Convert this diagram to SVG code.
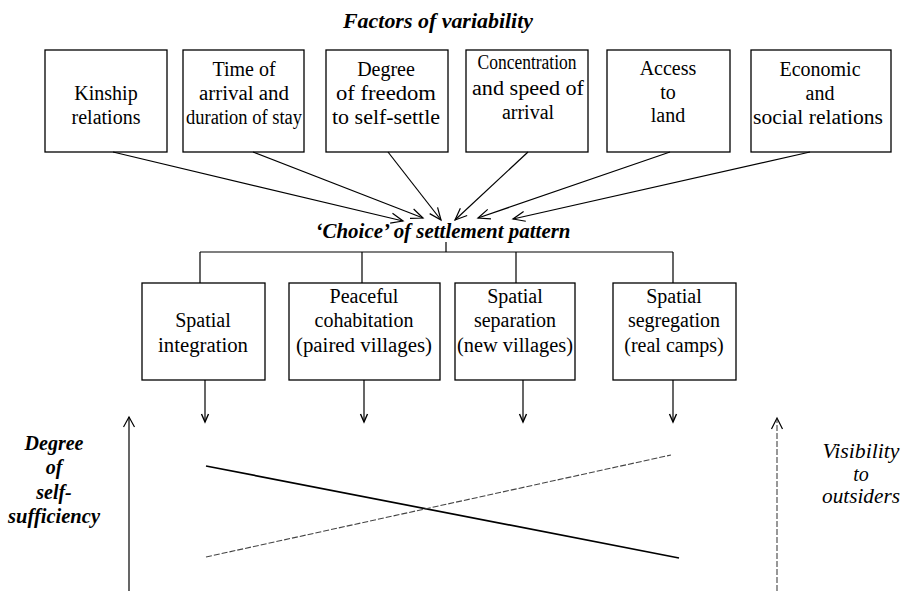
<svg xmlns="http://www.w3.org/2000/svg" width="903" height="591" viewBox="0 0 903 591">
<defs>
<style>
.box{fill:#fff;stroke:#000;stroke-width:1.3}
.t{font-size:20px;text-anchor:middle;fill:#000}
.bi{font-weight:bold;font-style:italic}
.it{font-style:italic}
.ln{stroke:#000;stroke-width:1.2;fill:none}
.dash{stroke:#444;stroke-width:1.1;fill:none;stroke-dasharray:6 2}
</style>
<marker id="open" markerWidth="15" markerHeight="12" refX="13" refY="6" orient="auto" markerUnits="userSpaceOnUse"><path d="M1,1 L13,6 L1,11" fill="none" stroke="#000" stroke-width="1.2"/></marker>
<marker id="small" markerWidth="11" markerHeight="10" refX="9" refY="5" orient="auto" markerUnits="userSpaceOnUse"><path d="M1,1.5 L9,5 L1,8.5" fill="none" stroke="#000" stroke-width="1.4"/></marker>
<marker id="up" markerWidth="13" markerHeight="13" refX="11" refY="6.5" orient="auto" markerUnits="userSpaceOnUse"><path d="M1,1 L11,6.5 L1,12" fill="none" stroke="#000" stroke-width="1.2"/></marker>
</defs>
<rect width="903" height="591" fill="#fff"/>
<g font-family="Liberation Serif, Times New Roman, DejaVu Serif, serif">
<text class="t bi" x="438" y="28" font-size="18" textLength="190" lengthAdjust="spacingAndGlyphs">Factors of variability</text>

<g id="kinship">
<rect class="box" x="45" y="50" width="122" height="102"/>
<text class="t" x="106" y="100">Kinship</text>
<text class="t" x="106" y="124">relations</text>
</g>
<g id="time">
<rect class="box" x="183" y="50" width="121" height="102"/>
<text class="t" x="244" y="76">Time of</text>
<text class="t" x="244" y="100" textLength="90" lengthAdjust="spacingAndGlyphs">arrival and</text>
<text class="t" x="244" y="124" textLength="116" lengthAdjust="spacingAndGlyphs">duration of stay</text>
</g>
<g id="degree">
<rect class="box" x="326" y="50" width="122" height="102"/>
<text class="t" x="386" y="76">Degree</text>
<text class="t" x="386" y="100" textLength="100" lengthAdjust="spacingAndGlyphs">of freedom</text>
<text class="t" x="386" y="124" textLength="108" lengthAdjust="spacingAndGlyphs">to self-settle</text>
</g>
<g id="concentration">
<rect class="box" x="466" y="50" width="122" height="102"/>
<text class="t" x="527" y="69" font-size="17" textLength="99" lengthAdjust="spacingAndGlyphs">Concentration</text>
<text class="t" x="528" y="95" textLength="112" lengthAdjust="spacingAndGlyphs">and speed of</text>
<text class="t" x="528" y="119">arrival</text>
</g>
<g id="access">
<rect class="box" x="607" y="50" width="123" height="102"/>
<text class="t" x="668" y="75">Access</text>
<text class="t" x="668" y="99">to</text>
<text class="t" x="668" y="122">land</text>
</g>
<g id="economic">
<rect class="box" x="751" y="50" width="140" height="102"/>
<text class="t" x="820" y="76" font-size="21">Economic</text>
<text class="t" x="820" y="100" font-size="21">and</text>
<text class="t" x="818" y="124" textLength="130" lengthAdjust="spacingAndGlyphs">social relations</text>
</g>

<g id="choice">
<text class="t bi" x="443" y="238" font-size="19" textLength="255" lengthAdjust="spacingAndGlyphs">‘Choice’ of settlement pattern</text>
</g>

<g id="integration">
<rect class="box" x="142" y="283" width="123" height="97"/>
<text class="t" x="203" y="327">Spatial</text>
<text class="t" x="203" y="352" textLength="90" lengthAdjust="spacingAndGlyphs">integration</text>
</g>
<g id="cohabitation">
<rect class="box" x="289" y="283" width="151" height="97"/>
<text class="t" x="364" y="303">Peaceful</text>
<text class="t" x="364" y="327">cohabitation</text>
<text class="t" x="364" y="352" textLength="136" lengthAdjust="spacingAndGlyphs">(paired villages)</text>
</g>
<g id="separation">
<rect class="box" x="455" y="283" width="120" height="97"/>
<text class="t" x="515" y="303">Spatial</text>
<text class="t" x="515" y="327">separation</text>
<text class="t" x="515" y="352" textLength="116" lengthAdjust="spacingAndGlyphs">(new villages)</text>
</g>
<g id="segregation">
<rect class="box" x="613" y="283" width="123" height="97"/>
<text class="t" x="674" y="303">Spatial</text>
<text class="t" x="674" y="327">segregation</text>
<text class="t" x="674" y="352">(real camps)</text>
</g>

<g id="degree-label">
<text class="t bi" x="54" y="450" font-size="19">Degree</text>
<text class="t bi" x="54" y="474" font-size="19">of</text>
<text class="t bi" x="54" y="499" font-size="19">self-</text>
<text class="t bi" x="54" y="523" font-size="19" textLength="92" lengthAdjust="spacingAndGlyphs">sufficiency</text>
</g>
<g id="visibility-label">
<text class="t it" x="861" y="458" font-size="19" textLength="77" lengthAdjust="spacingAndGlyphs">Visibility</text>
<text class="t it" x="861" y="481" font-size="19">to</text>
<text class="t it" x="861" y="503" font-size="19" textLength="78" lengthAdjust="spacingAndGlyphs">outsiders</text>
</g>
</g>
<g id="connectors">
<line class="ln" x1="113" y1="152" x2="403" y2="221" marker-end="url(#open)"/>
<line class="ln" x1="253" y1="152" x2="423" y2="218" marker-end="url(#open)"/>
<line class="ln" x1="388" y1="152" x2="441" y2="220" marker-end="url(#open)"/>
<line class="ln" x1="528" y1="152" x2="455" y2="220" marker-end="url(#open)"/>
<line class="ln" x1="670" y1="152" x2="478" y2="218" marker-end="url(#open)"/>
<line class="ln" x1="810" y1="152" x2="513" y2="219" marker-end="url(#open)"/>

<path class="ln" d="M446,242 V252 M200,252 H673 M200,252 V283 M362,252 V283 M516,252 V283 M673,252 V283"/>

<line class="ln" x1="205" y1="380" x2="205" y2="422" marker-end="url(#small)"/>
<line class="ln" x1="364" y1="380" x2="364" y2="422" marker-end="url(#small)"/>
<line class="ln" x1="523" y1="380" x2="523" y2="422" marker-end="url(#small)"/>
<line class="ln" x1="673" y1="380" x2="673" y2="422" marker-end="url(#small)"/>

<line class="ln" x1="129" y1="591" x2="129" y2="417" marker-end="url(#up)"/>
<line class="dash" x1="777" y1="591" x2="777" y2="420" stroke="#222" stroke-dasharray="16 1.5 3 1.5"/>
<path d="M771.5,429 L777,418 L782.5,429" fill="none" stroke="#000" stroke-width="1.2"/>

<line x1="206" y1="466" x2="679" y2="558" stroke="#000" stroke-width="1.7"/>
<line class="dash" x1="206" y1="557" x2="671" y2="455"/>
</g>
</svg>
